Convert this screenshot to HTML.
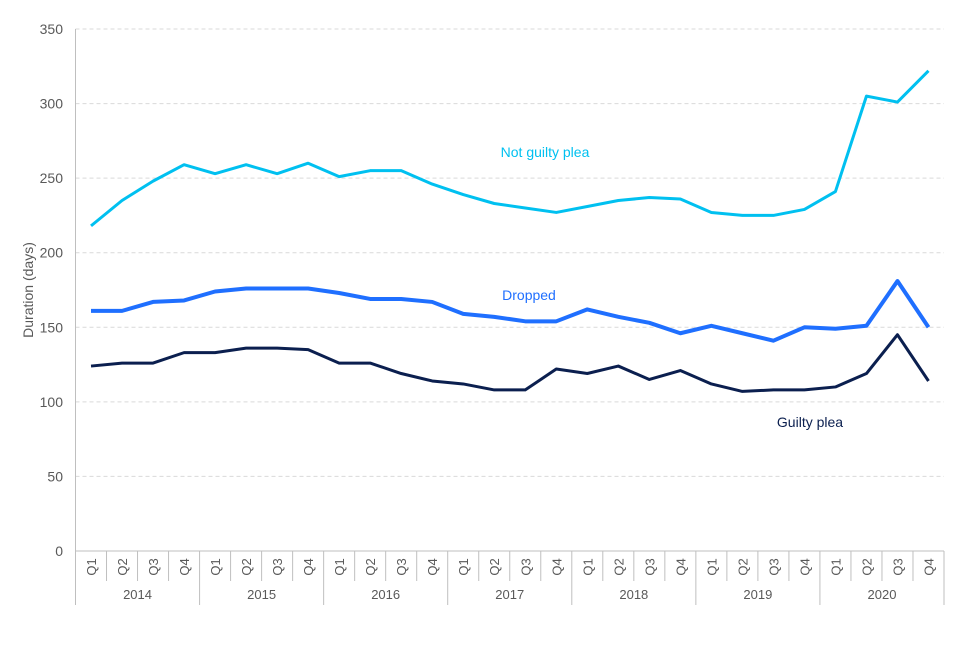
<!DOCTYPE html>
<html><head><meta charset="utf-8"><style>
body{margin:0;background:#fff}
text{font-family:"Liberation Sans",Arial,sans-serif}
</style></head><body>
<svg id="chart" width="960" height="640" xmlns="http://www.w3.org/2000/svg"></svg>
<script>
const years=["2014","2015","2016","2017","2018","2019","2020"];
const quarters=["Q1","Q2","Q3","Q4"];
const yTicks=[0,50,100,150,200,250,300,350];
const notGuilty=[218,235,248,259,253,259,253,260,251,255,255,246,239,233,230,227,231,235,237,236,227,225,225,229,241,305,301,322];
const dropped=[161,161,167,168,174,176,176,176,173,169,169,167,159,157,154,154,162,157,153,146,151,146,141,150,149,151,181,150];
const guilty=[124,126,126,133,133,136,136,135,126,126,119,114,112,108,108,122,119,124,115,121,112,107,108,108,110,119,145,114];

const svg=document.getElementById('chart');
const NS='http://www.w3.org/2000/svg';
const L=75.5,R=944,T=29,B=551,n=28,cw=(R-L)/n;
const y=v=>B-(v/350)*(B-T);
const x=i=>L+cw*(i+0.5);
function mk(tag,attrs,parent){const e=document.createElementNS(NS,tag);for(const k in attrs)e.setAttribute(k,attrs[k]);(parent||svg).appendChild(e);return e;}

const grid=mk('g',{});


yTicks.forEach(v=>{
  if(v>0){const g=mk('line',{x1:L,x2:R,y1:y(v),y2:y(v),stroke:'#d9d9d9','stroke-dasharray':'4,3'},grid);
  
  }
  const t=mk('text',{x:63,y:y(v)+5,'text-anchor':'end','font-size':'14',fill:'#595959'});
  t.textContent=v;
  
  
});
const ya=mk('line',{x1:L,x2:L,y1:T,y2:B,stroke:'#bfbfbf'});


const yt=mk('text',{x:0,y:0,transform:'translate(33,290) rotate(-90)','text-anchor':'middle','font-size':'14',fill:'#595959'});
yt.textContent='Duration (days)';



const xa=mk('line',{x1:L,x2:R,y1:B,y2:B,stroke:'#bfbfbf'});


for(let i=0;i<=n;i++){
  const xx=L+cw*i;
  const s=mk('line',{x1:xx,x2:xx,y1:B,y2:(i%4===0)?605:581,stroke:'#bfbfbf'});
  
  
  if(i<n){
    const q=mk('text',{x:0,y:0,transform:`translate(${x(i)+5},567) rotate(-90)`,'text-anchor':'middle','font-size':'13',fill:'#595959'});
    q.textContent=quarters[i%4];
    
    
  }
}
years.forEach((yr,j)=>{
  const t=mk('text',{x:L+cw*(4*j+2),y:599,'text-anchor':'middle','font-size':'13',fill:'#595959'});
  t.textContent=yr;
  
  
});

function series(data,color,w,name,label,lx,ly){
  const p=mk('polyline',{points:data.map((v,i)=>x(i)+','+y(v)).join(' '),fill:'none',stroke:color,'stroke-width':w,'stroke-linejoin':'round'});
  
  
  const t=mk('text',{x:lx,y:ly,'text-anchor':'middle','font-size':'14',fill:color});
  t.textContent=label;
  
  
}
series(notGuilty,'#00c0f0',3,'not-guilty-plea','Not guilty plea',545,157);
series(dropped,'#1f6fff',4,'dropped','Dropped',529,300);
series(guilty,'#0b1f4f',3,'guilty-plea','Guilty plea',810,427);
</script>
</body></html>
